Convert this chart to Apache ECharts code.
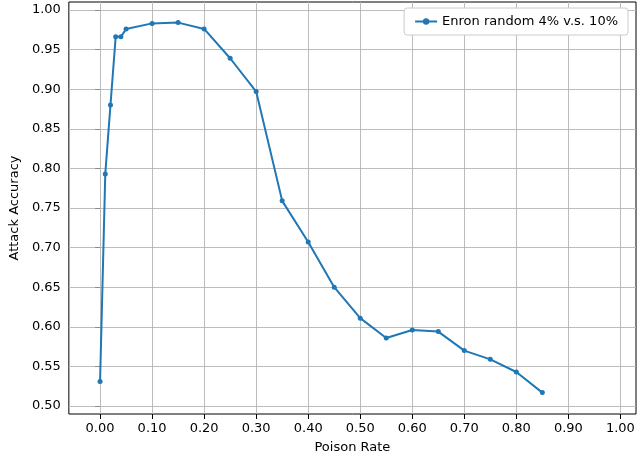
<!DOCTYPE html>
<html>
<head>
<meta charset="utf-8">
<script src="https://cdn.jsdelivr.net/npm/echarts@6/dist/echarts.min.js"></script>
<style>html,body{margin:0;padding:0;background:#fff}#main{width:640px;height:459px}</style>
</head>
<body>
<div id="main"></div>
<script>
var poisonRate = [0, 0.01, 0.02, 0.03, 0.04, 0.05, 0.1, 0.15, 0.2, 0.25, 0.3, 0.35, 0.4, 0.45, 0.5, 0.55, 0.6, 0.65, 0.7, 0.75, 0.8, 0.85];
var attackAcc = [0.531, 0.793, 0.880, 0.966, 0.966, 0.976, 0.983, 0.984, 0.976, 0.939, 0.897, 0.759, 0.707, 0.650, 0.611, 0.586, 0.596, 0.594, 0.570, 0.559, 0.543, 0.517];
var xTicks = [0, 0.1, 0.2, 0.3, 0.4, 0.5, 0.6, 0.7, 0.8, 0.9, 1.0];
var yTicks = [0.5, 0.55, 0.6, 0.65, 0.7, 0.75, 0.8, 0.85, 0.9, 0.95, 1.0];
var seriesName = 'Enron random 4% v.s. 10%';

var chart = echarts.init(document.getElementById('main'));
var font = 'DejaVu Sans';
var majorLines = xTicks.map(function (v) { return { xAxis: v }; })
    .concat(yTicks.map(function (v) { return { yAxis: v }; }));

chart.setOption({
    animation: false,
    grid: { left: 62, right: 4, top: 2, bottom: 41, show: true, borderColor: '#000', borderWidth: 1 },
    legend: {
        right: 12, top: 8, itemWidth: 22, itemHeight: 8,
        borderColor: '#ccc', borderWidth: 1, borderRadius: 3, padding: [7, 10],
        backgroundColor: '#fff',
        textStyle: { fontFamily: font, fontSize: 13, color: '#000' },
        data: [seriesName]
    },
    xAxis: {
        type: 'value', min: -0.06, max: 1.03, interval: 0.01,
        name: 'Poison Rate', nameLocation: 'middle', nameGap: 27,
        nameTextStyle: { fontFamily: font, fontSize: 13, color: '#000' },
        axisLine: { show: false },
        axisTick: { show: true, customValues: xTicks, lineStyle: { color: '#000' } },
        axisLabel: { fontFamily: font, fontSize: 13, color: '#000', customValues: xTicks,
            formatter: function (v) { return v.toFixed(2); } },
        splitLine: { show: true, lineStyle: { color: '#e2e2e2', width: 0.6 } }
    },
    yAxis: {
        type: 'value', min: 0.49, max: 1.01, interval: 0.01,
        name: 'Attack Accuracy', nameLocation: 'middle', nameGap: 44,
        nameTextStyle: { fontFamily: font, fontSize: 13, color: '#000' },
        axisLine: { show: false },
        axisTick: { show: true, customValues: yTicks, lineStyle: { color: '#000' } },
        axisLabel: { fontFamily: font, fontSize: 13, color: '#000', customValues: yTicks,
            formatter: function (v) { return v.toFixed(2); } },
        splitLine: { show: true, lineStyle: { color: '#e2e2e2', width: 0.6 } }
    },
    series: [{
        name: seriesName, type: 'line',
        data: poisonRate.map(function (x, i) { return [x, attackAcc[i]]; }),
        symbol: 'circle', symbolSize: 5,
        itemStyle: { color: '#1f77b4' },
        lineStyle: { color: '#1f77b4', width: 2 },
        markLine: {
            silent: true, symbol: 'none', label: { show: false }, z: 1,
            lineStyle: { color: '#b0b0b0', width: 0.8, type: 'solid' },
            data: majorLines
        }
    }]
});
</script>
</body>
</html>
